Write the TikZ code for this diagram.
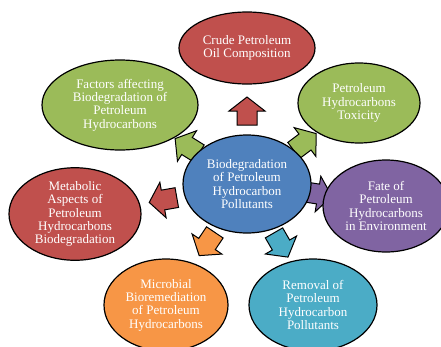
\documentclass[tikz,border=0pt]{standalone}
\usepackage{fontspec}
\setmainfont{Liberation Serif}
\usetikzlibrary{shapes.geometric}
\definecolor{hubblue}{HTML}{4F81BD}
\definecolor{topicred}{HTML}{C0504D}
\definecolor{topicgreen}{HTML}{9BBB59}
\definecolor{topicpurple}{HTML}{8064A2}
\definecolor{topicaqua}{HTML}{4BACC6}
\definecolor{topicorange}{HTML}{F79646}
\begin{document}
\begin{tikzpicture}[x=1pt,y=-1pt,topic/.style={ellipse,draw,line width=1.2pt,inner sep=0pt,text=white,align=center,font=\fontsize{13}{13.4}\selectfont},flow/.style={draw,line width=1pt,line join=miter}]
\clip (0,0) rectangle (441,346);
\coordinate (H) at (247,184);
\coordinate (C1) at (247,48);
\coordinate (C2) at (359,103);
\coordinate (C3) at (386,206);
\coordinate (C4) at (313,305);
\coordinate (C5) at (166,305);
\coordinate (C6) at (75,214);
\coordinate (C7) at (120,105);
% block arrows, drawn below the ellipses
\draw[flow,fill=topicred,shift={(247,111)},rotate=90] (14,0) -- (0,18) -- (0,10) -- (-14,10) -- (-14,-10) -- (0,-10) -- (0,-18) -- cycle;
\draw[flow,fill=topicgreen,shift={(305,142)},rotate=37] (14,0) -- (0,18) -- (0,10) -- (-14,10) -- (-14,-10) -- (0,-10) -- (0,-18) -- cycle;
\draw[flow,fill=topicpurple,shift={(318,194)},rotate=-9] (14,0) -- (0,18) -- (0,10) -- (-14,10) -- (-14,-10) -- (0,-10) -- (0,-18) -- cycle;
\draw[flow,fill=topicaqua,shift={(281,245)},rotate=-60] (14,0) -- (0,18) -- (0,10) -- (-14,10) -- (-14,-10) -- (0,-10) -- (0,-18) -- cycle;
\draw[flow,fill=topicorange,shift={(207,244)},rotate=-124] (14,0) -- (0,18) -- (0,10) -- (-14,10) -- (-14,-10) -- (0,-10) -- (0,-18) -- cycle;
\draw[flow,fill=topicred,shift={(163,200)},rotate=-170] (14,0) -- (0,18) -- (0,10) -- (-14,10) -- (-14,-10) -- (0,-10) -- (0,-18) -- cycle;
\draw[flow,fill=topicgreen,shift={(187,146)},rotate=148] (14,0) -- (0,18) -- (0,10) -- (-14,10) -- (-14,-10) -- (0,-10) -- (0,-18) -- cycle;
% topics
\node[topic,fill=topicred,minimum width=136pt,minimum height=72pt] (crude) at (C1) {Crude Petroleum\\Oil Composition};
\node[topic,fill=topicgreen,minimum width=122pt,minimum height=80pt] (toxicity) at (C2) {Petroleum\\Hydrocarbons\\Toxicity};
\node[topic,fill=topicpurple,minimum width=126pt,minimum height=92pt] (fate) at (C3) {Fate of\\Petroleum\\Hydrocarbons\\in Environment};
\node[topic,fill=topicaqua,minimum width=128pt,minimum height=92pt] (removal) at (C4) {Removal of\\Petroleum\\Hydrocarbon\\Pollutants};
\node[topic,fill=topicorange,minimum width=124pt,minimum height=92pt] (microbial) at (C5) {Microbial\\Bioremediation\\of Petroleum\\Hydrocarbons};
\node[topic,fill=topicred,minimum width=132pt,minimum height=92pt] (metabolic) at (C6) {Metabolic\\Aspects of\\Petroleum\\Hydrocarbons\\Biodegradation};
\node[topic,fill=topicgreen,minimum width=156pt,minimum height=90pt] (factors) at (C7) {Factors affecting\\Biodegradation of\\Petroleum\\Hydrocarbons};
\node[topic,fill=hubblue,minimum width=128pt,minimum height=98pt] (hub) at (H) {Biodegradation\\of Petroleum\\Hydrocarbon\\Pollutants};
\end{tikzpicture}
\end{document}
